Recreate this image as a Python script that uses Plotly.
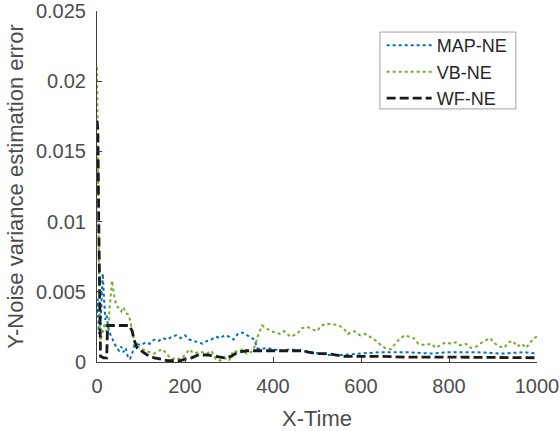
import plotly.graph_objects as go

# (time, error) samples for each estimator
map_ne = [
    (0, 0.0035), (2, 0.0045), (4, 0.0020), (6, 0.0030), (8, 0.0025), (10, 0.0040),
    (13, 0.0063), (16, 0.0045), (19, 0.0030), (22, 0.0033), (26, 0.0024), (30, 0.0020),
    (35, 0.0016), (40, 0.0013), (45, 0.0010), (50, 0.0008), (55, 0.0011), (60, 0.0007),
    (65, 0.0010), (70, 0.0004), (75, 0.0002), (80, 0.0006), (85, 0.0012), (90, 0.0013),
    (100, 0.0012), (110, 0.0014), (120, 0.0013), (130, 0.0016), (140, 0.0015),
    (150, 0.0017), (160, 0.0016), (170, 0.0018), (180, 0.0019), (190, 0.0017),
    (200, 0.0019), (210, 0.0016), (220, 0.0015), (230, 0.0014), (240, 0.0013),
    (250, 0.0015), (260, 0.0016), (270, 0.0018), (280, 0.0017), (290, 0.0019),
    (300, 0.0018), (310, 0.0016), (320, 0.0020), (330, 0.0021), (340, 0.0019),
    (350, 0.0017), (358, 0.0016), (364, 0.0010), (370, 0.0009), (385, 0.0010),
    (400, 0.0009), (420, 0.0008), (440, 0.0009), (460, 0.0008), (480, 0.0007),
    (500, 0.0006), (530, 0.0005), (560, 0.0005), (600, 0.0006), (640, 0.0007),
    (700, 0.0007), (760, 0.0006), (800, 0.0007), (860, 0.0007), (920, 0.0006),
    (970, 0.0007), (1000, 0.0006),
]

vb_ne = [
    (0, 0.0210), (1, 0.0190), (2, 0.0150), (3, 0.0110), (4, 0.0070), (5, 0.0040),
    (6, 0.0022), (8, 0.0015), (10, 0.0018), (12, 0.0020), (15, 0.0024), (18, 0.0028),
    (21, 0.0022), (25, 0.0020), (28, 0.0035), (31, 0.0050), (34, 0.0058), (37, 0.0052),
    (40, 0.0045), (45, 0.0040), (50, 0.0038), (55, 0.0036), (60, 0.0039), (65, 0.0035),
    (70, 0.0034), (75, 0.0030), (80, 0.0022), (85, 0.0015), (90, 0.0011), (100, 0.0010),
    (110, 0.0008), (120, 0.0007), (130, 0.0006), (140, 0.0008), (150, 0.0009),
    (160, 0.0005), (170, 0.0002), (180, 0.0003), (190, 0.0002), (200, 0.0005),
    (210, 0.0009), (220, 0.0006), (230, 0.0007), (240, 0.0007), (250, 0.0006),
    (260, 0.0008), (270, 0.0002), (280, 0.0001), (290, 0.0003), (300, 0.0001),
    (310, 0.0008), (320, 0.0007), (330, 0.0009), (340, 0.0006), (350, 0.0007),
    (360, 0.0012), (365, 0.0018), (375, 0.0026), (385, 0.0024), (395, 0.0022),
    (405, 0.0021), (415, 0.0020), (425, 0.0022), (440, 0.0018), (455, 0.0020),
    (465, 0.0024), (477, 0.0025), (490, 0.0023), (500, 0.0022), (510, 0.0026),
    (520, 0.0027), (535, 0.0027), (550, 0.0026), (560, 0.0024), (570, 0.0020),
    (585, 0.0022), (598, 0.0019), (610, 0.0020), (625, 0.0017), (635, 0.0015),
    (645, 0.0012), (655, 0.0010), (668, 0.0009), (680, 0.0014), (690, 0.0017),
    (700, 0.0019), (710, 0.0018), (720, 0.0017), (730, 0.0013), (745, 0.0012),
    (760, 0.0013), (770, 0.0010), (780, 0.0012), (792, 0.0014), (805, 0.0013),
    (815, 0.0014), (825, 0.0012), (838, 0.0013), (850, 0.0010), (862, 0.0011),
    (875, 0.0014), (885, 0.0016), (893, 0.0017), (905, 0.0013), (915, 0.0011),
    (925, 0.0010), (935, 0.0014), (945, 0.0015), (955, 0.0011), (965, 0.0013),
    (975, 0.0010), (985, 0.0014), (993, 0.0017), (1000, 0.0018),
]

wf_ne = [
    (0, 0.0172), (2, 0.0165), (4, 0.0100), (6, 0.0030), (8, 0.0004), (15, 0.0003),
    (22, 0.0003), (24, 0.0026), (40, 0.0026), (60, 0.0026), (73, 0.0026), (80, 0.0022),
    (84, 0.0016), (91, 0.0010), (100, 0.0008), (114, 0.0005), (130, 0.0003),
    (145, 0.0002), (160, 0.0001), (175, 0.0001), (190, 0.0001), (200, 0.0002),
    (215, 0.0003), (230, 0.0005), (250, 0.0005), (270, 0.0004), (290, 0.0003),
    (305, 0.0004), (320, 0.0007), (340, 0.0008), (380, 0.0008), (420, 0.0008),
    (470, 0.0008), (480, 0.0007), (500, 0.0006), (525, 0.0006), (540, 0.0005),
    (560, 0.0004), (650, 0.0004), (700, 0.00035), (800, 0.00035), (900, 0.00035),
    (1000, 0.0003),
]

y_ticks = [0, 0.005, 0.01, 0.015, 0.02, 0.025]
y_tick_text = ["0", "0.005", "0.01", "0.015", "0.02", "0.025"]
x_ticks = [0, 200, 400, 600, 800, 1000]

series = [
    ("MAP-NE", map_ne, "#0072BD", dict(width=2, dash="dot")),
    ("VB-NE", vb_ne, "#77AC30", dict(width=2, dash="dot")),
    ("WF-NE", wf_ne, "#1a1a1a", dict(width=2.8, dash="9px,4px")),
]

fig = go.Figure()
for name, pts, color, style in series:
    xs, ys = zip(*pts)
    fig.add_trace(go.Scatter(
        x=list(xs), y=list(ys), mode="lines", name=name,
        line=dict(color=color, **style),
    ))

font_family = "Liberation Sans, Arial, sans-serif"
axis_font = dict(family=font_family, size=20, color="#4d4d4d")
title_font = dict(family=font_family, size=22, color="#4d4d4d")

# legend frame drawn as a paper-space rectangle
fig.add_shape(
    type="rect", xref="paper", yref="paper",
    x0=0.643, x1=0.952, y0=0.721, y1=0.940,
    line=dict(color="#a0a0a0", width=1), fillcolor="rgba(255,255,255,0)", layer="above",
)

fig.update_layout(
    template="none",
    width=560, height=431,
    margin=dict(l=97, r=23, t=11, b=69, autoexpand=False),
    paper_bgcolor="white", plot_bgcolor="white",
    showlegend=True,
    legend=dict(
        x=0.647, y=0.954, xanchor="left", yanchor="top",
        bgcolor="rgba(255,255,255,0)", borderwidth=0,
        font=dict(family=font_family, size=18, color="#262626"),
        tracegroupgap=0, itemwidth=45,
    ),
    xaxis=dict(
        range=[0, 1000], tickvals=x_ticks, ticks="inside", ticklen=5,
        tickcolor="#404040", showline=True, linecolor="#404040", linewidth=1,
        showgrid=False, zeroline=False, mirror=False, automargin=False,
        ticklabelstandoff=6,
        tickfont=axis_font, title=dict(text="X-Time", font=title_font, standoff=14),
    ),
    yaxis=dict(
        range=[0, 0.025], tickvals=y_ticks, ticktext=y_tick_text, ticks="inside",
        ticklen=5, tickcolor="#404040", showline=True, linecolor="#404040", linewidth=1,
        showgrid=False, zeroline=False, mirror=False, automargin=False,
        ticklabelstandoff=6,
        tickfont=axis_font,
        title=dict(text="Y-Noise variance estimation error", font=title_font, standoff=6),
    ),
)

fig.write_html("out.html")
